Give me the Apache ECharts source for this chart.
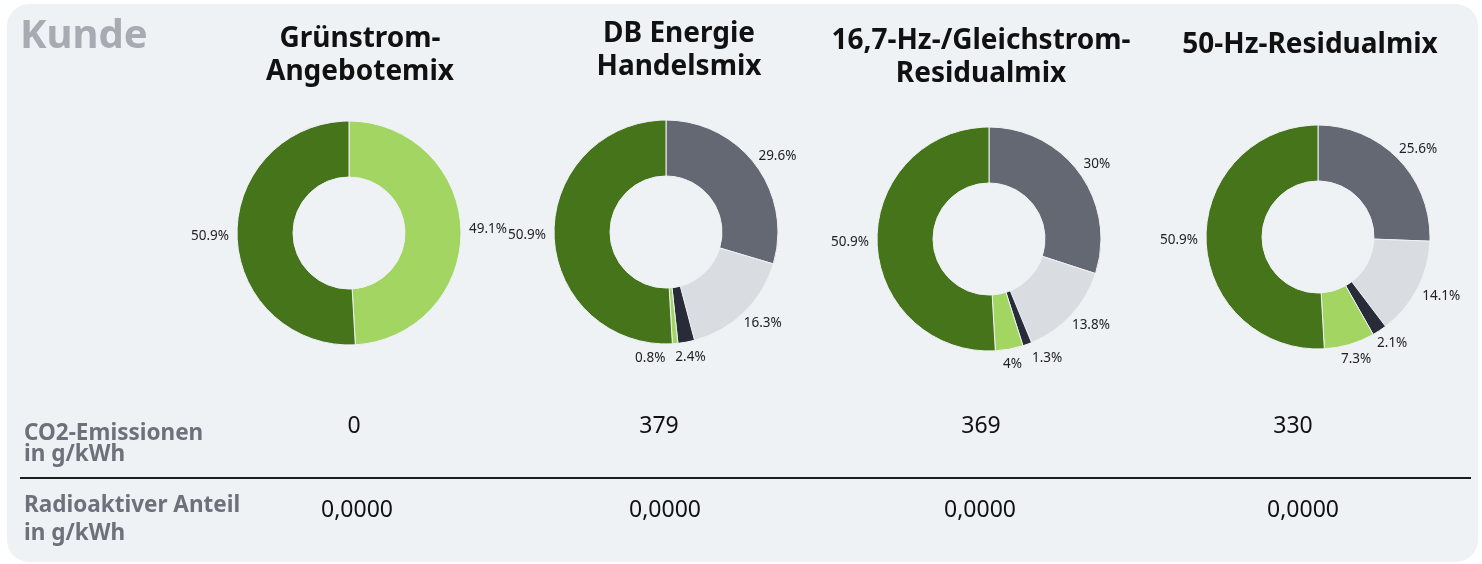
<!DOCTYPE html>
<html>
<head>
<meta charset="utf-8">
<script src="https://cdn.jsdelivr.net/npm/echarts@6/dist/echarts.min.js"></script>
<style>
html, body { margin: 0; padding: 0; background: #fff; }
#chart { width: 1482px; height: 564px; }
</style>
</head>
<body>
<div id="chart"></div>
<script>
// energy sources, clockwise from 12 o'clock
const sources = ["Fossile Energieträger", "Sonstige", "Kernenergie", "Erneuerbare (EEG)", "Erneuerbare Energien"];
const sourceColors = ["#646873", "#d9dde1", "#282c38", "#a2d561", "#45741a"];

const mixTitles = ["Grünstrom-\nAngebotemix", "DB Energie\nHandelsmix", "16,7-Hz-/Gleichstrom-\nResidualmix", "50-Hz-Residualmix"];
const greenMix = [0, 0, 0, 49.1, 50.9];
const dbMix = [29.6, 16.3, 2.4, 0.8, 50.9];
const tractionMix = [30, 13.8, 1.3, 4, 50.9];
const residualMix = [25.6, 14.1, 2.1, 7.3, 50.9];
const co2Values = ["0", "379", "369", "330"];
const radioValues = ["0,0000", "0,0000", "0,0000", "0,0000"];
const rowLabels = ["CO2-Emissionen\nin g/kWh", "Radioaktiver Anteil\nin g/kWh"];
const headLabel = "Kunde";

const mixes = [greenMix, dbMix, tractionMix, residualMix];

// layout
const pieCenters = [[349, 233], [666, 232], [989, 239], [1318, 237]];
const titlePos = [[360, 56], [679, 50.5], [981, 57.5], [1310, 45]];
const co2X = [354, 659, 981, 1293];
const radioX = [357, 665, 980, 1303];

const FONT = '"Noto Sans", "Open Sans", sans-serif';

const chart = echarts.init(document.getElementById("chart"), null, { renderer: "canvas" });

// label boxes from the previous layout pass, per series
const labelBoxes = {};

// labels sit just outside the ring, pushed out by half their box; where two
// collide, the one of the smaller slice steps sideways
function makeLabelLayout(seriesIndex, center, values){
  return (p) => {
    const pts = p.labelLinePoints;
    const rect = p.labelRect;
    let px, py, dx, dy;
    if(pts && pts.length > 1){
      px = pts[1][0]; py = pts[1][1];
      const vx = pts[1][0] - pts[0][0], vy = pts[1][1] - pts[0][1];
      const len = Math.hypot(vx, vy) || 1;
      dx = vx / len; dy = vy / len;
    } else {
      px = p.align === "left" ? rect.x : rect.x + rect.width;
      py = rect.y + rect.height / 2;
      const len = Math.hypot(px - center[0], py - center[1]) || 1;
      dx = (px - center[0]) / len; dy = (py - center[1]) / len;
    }
    const w = rect.width, h = rect.height;
    const x = px + dx * w / 2;
    const y = py + dy * h / 2;
    const v = values[p.dataIndex];
    const boxes = labelBoxes[seriesIndex] || (labelBoxes[seriesIndex] = []);
    boxes[p.dataIndex] = { x, y, w, h, v };

    let nx = x;
    boxes.forEach((r, j) => {
      if(!r || j === p.dataIndex || v >= r.v) return;
      const overlapX = (w + r.w) / 2 - Math.abs(x - r.x);
      const overlapY = (h + r.h) / 2 - Math.abs(y - r.y);
      if(overlapX > 0 && overlapY > 4){
        nx = x < r.x ? r.x - (w + r.w) / 2 - 10 : r.x + (w + r.w) / 2 + 10;
      }
    });
    return { x: nx, y, align: "center", verticalAlign: "middle" };
  };
}

function pieData(values){
  return values
    .map((v, i) => ({ name: sources[i], value: v, itemStyle: { color: sourceColors[i] } }))
    .filter((d) => d.value > 0);
}

const series = mixes.map((values, i) => {
  const data = pieData(values);
  return {
    name: mixTitles[i].replace("\n", " "),
    type: "pie",
    center: pieCenters[i],
    radius: [56, 112],
    startAngle: 90,
    clockwise: true,
    avoidLabelOverlap: false,
    silent: true,
    itemStyle: { borderColor: "#eff2f5", borderWidth: 1 },
    label: {
      show: true,
      position: "outside",
      formatter: (p) => `${p.value}%`,
      color: "#222",
      fontFamily: FONT,
      fontSize: 13.5,
      distanceToLabelLine: 0
    },
    labelLine: { show: true, length: 8, length2: 0, lineStyle: { opacity: 0 } },
    labelLayout: makeLabelLayout(i, pieCenters[i], data.map((d) => d.value)),
    emphasis: { disabled: true },
    data
  };
});

function text(x, y, str, opts){
  return {
    type: "text",
    x, y,
    silent: true,
    style: Object.assign({
      text: str,
      fontFamily: FONT,
      fill: "#111",
      align: "center",
      textAlign: "center",
      verticalAlign: "middle",
      textVerticalAlign: "middle"
    }, opts)
  };
}

const graphics = [
  {
    type: "rect",
    z: -10,
    silent: true,
    shape: { x: 7, y: 4, width: 1471, height: 558, r: 22 },
    style: { fill: "#eff2f5" }
  },
  {
    type: "line",
    silent: true,
    shape: { x1: 20, y1: 478, x2: 1471, y2: 478 },
    style: { stroke: "#1c1c1c", lineWidth: 2 }
  },
  text(20, 37, headLabel, { fontSize: 40, fontWeight: "bold", fill: "#a8abb2", align: "left", textAlign: "left" }),
  text(24, 444, rowLabels[0], { fontSize: 22.5, fontWeight: "bold", fill: "#6d717b", align: "left", textAlign: "left", lineHeight: 21 }),
  text(24, 520, rowLabels[1], { fontSize: 22.5, fontWeight: "bold", fill: "#6d717b", align: "left", textAlign: "left", lineHeight: 28 })
];

mixTitles.forEach((t, i) => {
  graphics.push(text(titlePos[i][0], titlePos[i][1], t, { fontSize: 28, fontWeight: "bold", fill: "#111", lineHeight: 33 }));
});
co2Values.forEach((v, i) => {
  graphics.push(text(co2X[i], 426.5, v, { fontSize: 23, fill: "#111" }));
});
radioValues.forEach((v, i) => {
  graphics.push(text(radioX[i], 510.5, v, { fontSize: 23, fill: "#111" }));
});

const option = {
  animation: false,
  backgroundColor: "#fff",
  graphic: graphics,
  series
};

// first pass measures every label, second pass resolves collisions
chart.setOption(option, true);
chart.setOption(option, true);
</script>
</body>
</html>
